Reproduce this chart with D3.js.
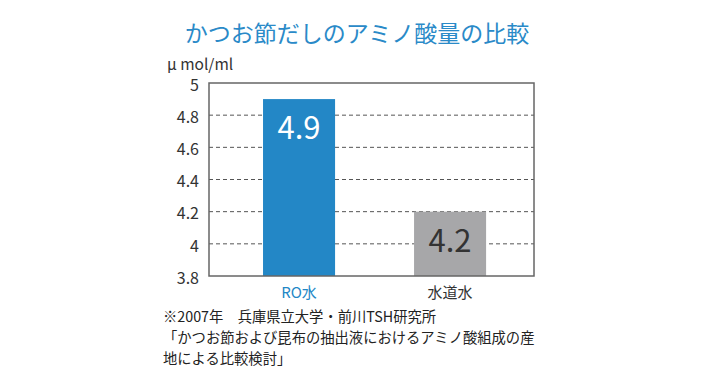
<!DOCTYPE html>
<html lang="ja">
<head>
  <meta charset="UTF-8">
  <title>かつお節だしのアミノ酸量の比較</title>
  <script src="https://cdn.jsdelivr.net/npm/d3@7"></script>
  <style>
    body { margin: 0; background: #fff; }
    svg { font-family: "Noto Sans CJK JP", "Noto Sans", sans-serif; }
  </style>
</head>
<body>
<svg width="712" height="377"></svg>
<script>
  // データ
  const categories = ["RO水", "水道水"];
  const values = [4.9, 4.2];
  const yTicks = [3.8, 4, 4.2, 4.4, 4.6, 4.8, 5];
  const barColors = ["#2387c6", "#a7a7a9"];
  const valueColors = ["#ffffff", "#333333"];
  const catColors = ["#2387c6", "#333333"];
  const notes = [
    "※2007年　兵庫県立大学・前川TSH研究所",
    "「かつお節および昆布の抽出液におけるアミノ酸組成の産",
    "地による比較検討」"
  ];

  const margin = { top: 83, left: 209, right: 534, bottom: 276 };
  const svg = d3.select("svg");

  const y = d3.scaleLinear().domain([3.8, 5]).range([margin.bottom, margin.top]);
  const x = d3.scaleBand().domain(categories)
    .range([margin.left, margin.right])
    .paddingInner(0.523).paddingOuter(0.3375).align(0.53);

  // タイトル
  svg.append("text")
    .attr("x", 357).attr("y", 42)
    .attr("text-anchor", "middle")
    .attr("font-size", 23)
    .attr("fill", "#2a8ac8")
    .text("かつお節だしのアミノ酸量の比較");

  // 単位
  svg.append("text")
    .attr("x", 167).attr("y", 70)
    .attr("font-size", 15.5).attr("fill", "#333")
    .text("μ mol/ml");

  // グリッド線
  svg.append("g").selectAll("line")
    .data(yTicks.filter(d => d > 3.8 && d < 5))
    .join("line")
    .attr("x1", margin.left).attr("x2", margin.right)
    .attr("y1", d => y(d)).attr("y2", d => y(d))
    .attr("stroke", "#555").attr("stroke-width", 1)
    .attr("stroke-dasharray", "4,3");

  // 棒
  svg.append("g").selectAll("rect")
    .data(values)
    .join("rect")
    .attr("x", (d, i) => x(categories[i]))
    .attr("width", x.bandwidth())
    .attr("y", d => y(d))
    .attr("height", d => y(3.8) - y(d))
    .attr("fill", (d, i) => barColors[i]);

  // 値ラベル
  svg.append("g").selectAll("text")
    .data(values)
    .join("text")
    .attr("x", (d, i) => x(categories[i]) + x.bandwidth() / 2)
    .attr("y", d => y(d) + 40)
    .attr("text-anchor", "middle")
    .attr("font-size", 31)
    .attr("fill", (d, i) => valueColors[i])
    .text(d => d.toFixed(1));

  // 枠
  svg.append("rect")
    .attr("x", margin.left).attr("y", margin.top)
    .attr("width", margin.right - margin.left)
    .attr("height", margin.bottom - margin.top)
    .attr("fill", "none").attr("stroke", "#666").attr("stroke-width", 1.5);

  // y軸
  const yAxis = d3.axisLeft(y).tickValues(yTicks).tickSize(0).tickPadding(10)
    .tickFormat(d3.format("~g"));
  const gy = svg.append("g")
    .attr("transform", `translate(${margin.left},0)`)
    .call(yAxis);
  gy.select(".domain").remove();
  gy.selectAll("text").attr("font-size", 16).attr("fill", "#333")
    .attr("dy", "0.45em")
    .attr("font-family", "'Noto Sans CJK JP', sans-serif");

  // カテゴリラベル
  svg.append("g").selectAll("text")
    .data(categories)
    .join("text")
    .attr("x", d => x(d) + x.bandwidth() / 2)
    .attr("y", 298)
    .attr("text-anchor", "middle")
    .attr("font-size", 15)
    .attr("fill", (d, i) => catColors[i])
    .text(d => d);

  // 注記
  svg.append("g").selectAll("text")
    .data(notes)
    .join("text")
    .attr("x", 163)
    .attr("y", (d, i) => [322, 343, 364][i])
    .attr("font-size", 14.3)
    .attr("fill", "#222")
    .text(d => d);
</script>
</body>
</html>
